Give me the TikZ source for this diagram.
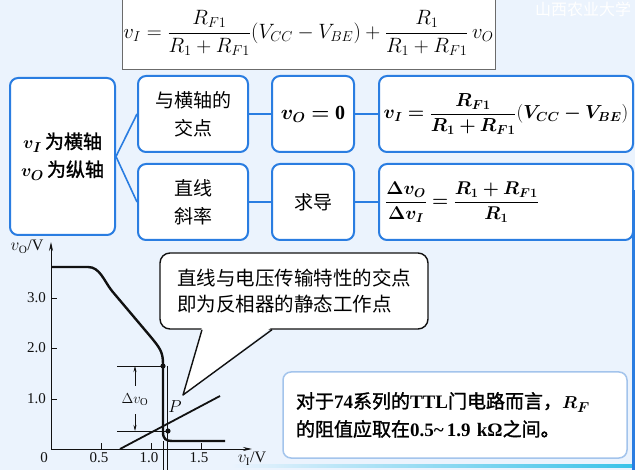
\documentclass[tikz,border=0pt]{standalone}
\usepackage{graphicx}
\usepackage{bm}
\usepackage{fontspec}
\setmainfont{Liberation Serif}
\newfontfamily\cjk{Noto Sans CJK SC}
\newfontfamily\cjkbf[FakeBold=1.5]{Noto Sans CJK SC}
\usetikzlibrary{arrows.meta,positioning}
\definecolor{PageBg}{HTML}{EBF3FD}
\definecolor{BoxBlue}{HTML}{2A7DE1}
\definecolor{NoteBlue}{HTML}{A3C4EC}
\definecolor{FrameGray}{HTML}{6B6B6B}
\definecolor{Ink}{HTML}{111111}
\definecolor{EdgeCyan}{HTML}{38C2E8}
\newcommand{\lat}[1]{{\rmfamily\bfseries #1}}

\begin{document}
\begin{tikzpicture}[x=1pt,y=-1pt,
  box/.style={draw=BoxBlue,line width=2pt,rounded corners=8pt,fill=white,align=center,inner sep=0pt,font=\cjk\fontsize{19}{28}\selectfont},
  link/.style={draw=BoxBlue,line width=1.6pt},
  axis/.style={-{Stealth[length=9pt,width=4pt]},line width=0.9pt,draw=Ink},
  curve/.style={line width=2.4pt,draw=Ink,line join=round},
  guide/.style={line width=0.8pt,draw=Ink},
  tick/.style={font=\fontsize{15}{16}\selectfont,text=Ink,inner sep=0pt},
  dim/.style={-{Stealth[length=6pt,width=3pt]},line width=0.7pt,draw=Ink},
  callout/.style={draw=Ink,line width=1.4pt,rounded corners=10pt,fill=white,align=left,inner sep=0pt,minimum width=268pt,minimum height=76pt,font=\cjk\fontsize{19.5}{26}\selectfont},
  note/.style={draw=NoteBlue,line width=1.5pt,rounded corners=8pt,fill=white,align=left,inner xsep=13pt,inner ysep=0pt,text width=318pt,minimum height=86pt,font=\cjkbf\fontsize{19}{28}\selectfont}
]
\fill[PageBg] (0,0) rectangle (635,470);
\useasboundingbox (0,0) rectangle (635,470);
\node[text=white,font=\cjk\fontsize{16}{16}\selectfont] (mark) at (583,9) {山西农业大学};
% slide edges
\shade[left color=PageBg,right color=EdgeCyan] (230,464.5) rectangle (635,467.5);
\fill[BoxBlue] (632,190) rectangle (635,470);

% formula on top
\node[draw=FrameGray,fill=white,line width=0.8pt,minimum width=373pt,minimum height=72pt,inner sep=0pt,font=\fontsize{22}{26}\selectfont] (law) at (308.5,33)
  {$\displaystyle v_I=\frac{R_{F1}}{R_1+R_{F1}}\Bigl(V_{CC}-V_{BE}\Bigr)+\frac{R_1}{R_1+R_{F1}}\,v_O$};

% boxes
\node[box,minimum width=105pt,minimum height=157pt] (axes) at (62.5,156.5)
  {$\bm{v_I}$\,{\cjkbf 为横轴}\\$\bm{v_O}$\,{\cjkbf 为纵轴}};
\node[box,minimum width=110pt,minimum height=76pt] (cross) at (193,114) {与横轴的\\交点};
\node[box,minimum width=110pt,minimum height=76pt,below=10pt of cross] (slope) {直线\\斜率};
\node[box,minimum width=82pt,minimum height=76pt,right=22pt of cross,font=\fontsize{20}{22}\selectfont] (vzero) {$\bm{v_O}\bm{=}\mathbf{0}$};
\node[box,minimum width=82pt,minimum height=76pt,right=22pt of slope] (deriv) {求导};
\node[box,minimum width=254pt,minimum height=76pt,right=23pt of vzero,font=\fontsize{17}{20}\selectfont] (vi)
  {\scalebox{1.09}{$\displaystyle \bm{v_I}\bm{=}\frac{\bm{R_{F1}}}{\bm{R_1}\bm{+}\bm{R_{F1}}}\Bigl(\bm{V_{CC}}\bm{-}\bm{V_{BE}}\Bigr)$}};
\node[box,minimum width=254pt,minimum height=76pt,right=23pt of deriv,text width=242pt,align=left,font=\fontsize{17}{20}\selectfont] (gain)
  {\scalebox{1.07}{$\displaystyle \frac{\bm{\Delta v_O}}{\bm{\Delta v_I}}\bm{=}\frac{\bm{R_1}\bm{+}\bm{R_{F1}}}{\bm{R_1}}$}};
\draw[link] (axes.east) -- (cross.west);
\draw[link] (axes.east) -- (slope.west);
\draw[link] (cross) -- (vzero);
\draw[link] (vzero) -- (vi);
\draw[link] (slope) -- (deriv);
\draw[link] (deriv) -- (gain);

% transfer characteristic
\coordinate (org) at (51,449);
\coordinate (ytop) at (51,242);
\coordinate (xend) at (252,449);
\draw[axis] (org) -- (ytop);
\draw[axis] (org) -- (xend);
\foreach \v/\t [count=\i] in {298/3.0,348/2.0,399/1.0} {
  \draw[guide] (51,\v) -- (57,\v);
  \node[tick,anchor=east] (ylab\i) at (46,\v) {\t};
}
\foreach \u/\t [count=\i] in {101/0.5,151/1.0,201/1.5} {
  \draw[guide] (\u,449) -- (\u,443);
  \node[tick] (xlab\i) at (\u-2,458) {\t};
}
\node[tick] (zero) at (44,458) {0};
\node[tick,font=\fontsize{16}{16}\selectfont] (ylabel) at (27,247) {$v_{\mathrm{O}}$/V};
\node[tick,font=\fontsize{16}{16}\selectfont] (xlabel) at (252,459) {$v_{\mathrm{I}}$/V};

\draw[curve] (51,267) -- (88,267) .. controls (100,267) and (104,281) .. (112,291)
  -- (150,336) .. controls (160,348) and (163,352) .. (163,364)
  -- (163,432) .. controls (163,439) and (166,441) .. (172,441) -- (225,441);
\draw[guide] (167.5,366) -- (167.5,470);
\draw[guide] (163,441) -- (163,470);

\coordinate (hi) at (163,366);
\coordinate (lo) at (168,431);
\fill[Ink] (hi) circle (2.6pt);
\fill[Ink] (lo) circle (2.6pt);
\draw[guide] (117,366) -- (hi);
\draw[guide] (117,431) -- (lo);
\node[tick] (dvo) at (135,400) {$\Delta v_{\mathrm{O}}$};
\coordinate (dtop) at (135,366);
\coordinate (dbot) at (135,431);
\draw[dim] (dvo.north) ++(0,-8) -- (dtop);
\draw[dim] (dvo.south) ++(0,8) -- (dbot);

\coordinate (ls) at (120,449);
\coordinate (le) at (220,396);
\draw[line width=1.8pt,draw=Ink] (ls) -- (le);
\node[font=\fontsize{17}{17}\selectfont] (P) at (175,407) {$P$};

% callout
\node[callout] (tip) at (294,291) {直线与电压传输特性的交点\\即为反相器的静态工作点};
\coordinate (ptr) at (183,395);
\coordinate (bl) at (202,329);
\coordinate (br) at (272,329);
\fill[white] ([yshift=2pt]bl) -- (ptr) -- ([yshift=2pt]br) -- cycle;
\draw[draw=Ink,line width=1.4pt,line join=round] ([yshift=-0.7pt]bl) -- (ptr) -- ([yshift=-0.7pt]br);

% note
\node[note] (rule) at (455,415)
  {对于\lat{74}系列的\lat{TTL}门电路而言，$\bm{R_F}$\\的阻值应取在\lat{0.5\textasciitilde\,1.9 kΩ}之间。};
\end{tikzpicture}
\end{document}
